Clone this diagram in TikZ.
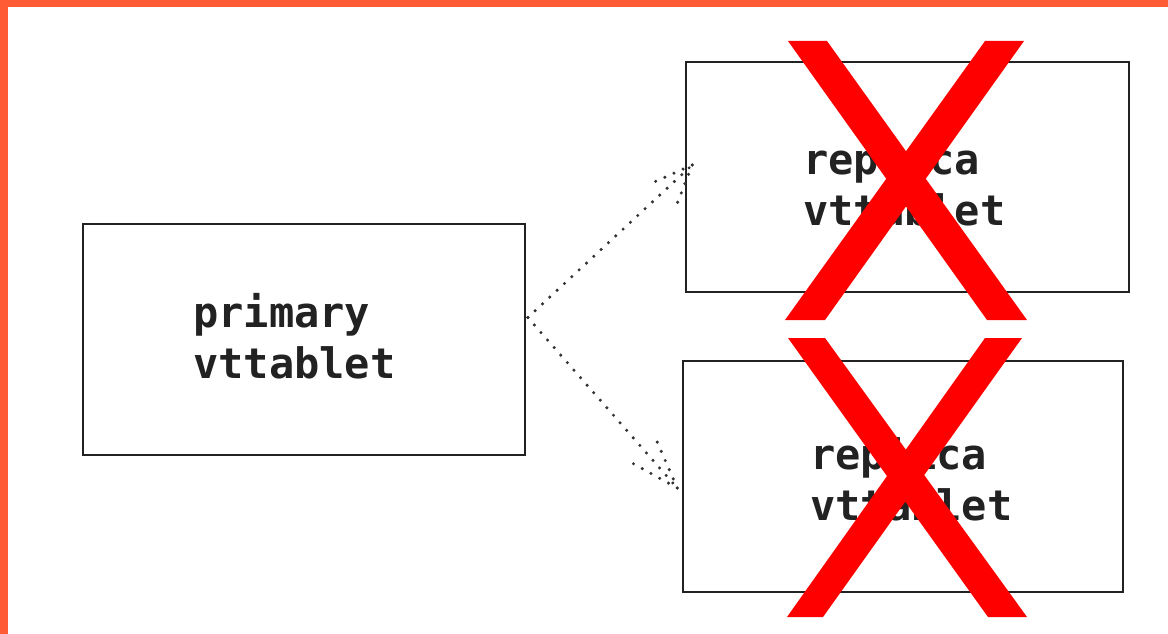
\documentclass[tikz,border=0pt]{standalone}
\usepackage{fontspec}
\newfontfamily\monofam{DejaVu Sans Mono}
\definecolor{brandorange}{HTML}{FF5C35}
\definecolor{ink}{HTML}{222222}
\definecolor{dotink}{HTML}{333333}
\definecolor{xred}{HTML}{FF0000}
\tikzset{
  sketchbox/.style={draw=ink, line width=1.6pt, rectangle, inner sep=0pt},
  lbl/.style={font=\monofam\bfseries\fontsize{42}{51}\selectfont, align=left, inner sep=0pt, anchor=base west, text=ink},
  dotline/.style={draw=dotink, line width=3.4pt, line cap=round, dash pattern=on 0pt off 10pt},
  xstroke/.style={fill=xred, draw=none}
}
\begin{document}
\begin{tikzpicture}[x=1pt, y=-1pt]
\useasboundingbox (0,0) rectangle (1168,634);
\fill[white] (0,0) rectangle (1168,634);
% orange frame
\fill[brandorange] (0,0) rectangle (1168,7);
\fill[brandorange] (0,0) rectangle (8,634);
% boxes
\node[sketchbox, minimum width=442pt, minimum height=231pt] (prim) at (304,339.5) {};
\node[sketchbox, minimum width=443pt, minimum height=230pt] (rep1) at (907.5,177) {};
\node[sketchbox, minimum width=440pt, minimum height=231pt] (rep2) at (903,476.5) {};
% labels (anchor = baseline of last line)
\node[lbl] (tprim) at (193,378) {primary\\vttablet};
\node[lbl] (trep1) at (803,225) {replica\\vttablet};
\node[lbl] (trep2) at (810,520) {replica\\vttablet};
% connectors
\coordinate (s) at ([shift={(2,-22)}]prim.east);
\coordinate (tipA) at ([shift={(7,-12)}]rep1.west);
\coordinate (tipB) at ([shift={(-5,11.5)}]rep2.west);
\draw[dotline] (s) -- (tipA);
\draw[dotline] (tipA) -- ++(-38,17);
\draw[dotline] (tipA) -- ++(-16,41);
\draw[dotline] (s) -- (tipB);
\draw[dotline] (tipB) -- ++(-45,-25);
\draw[dotline] (tipB) -- ++(-20,-46);
% red crosses
\fill[xstroke] (788,41) -- (827,41) -- (1027,320) -- (987,320) -- cycle;
\fill[xstroke] (985,41) -- (1024,41) -- (825,320) -- (785,320) -- cycle;
\fill[xstroke] (788,338) -- (825,338) -- (1027,617) -- (988,617) -- cycle;
\fill[xstroke] (985,338) -- (1022,338) -- (823,617) -- (787,617) -- cycle;
\end{tikzpicture}
\end{document}
